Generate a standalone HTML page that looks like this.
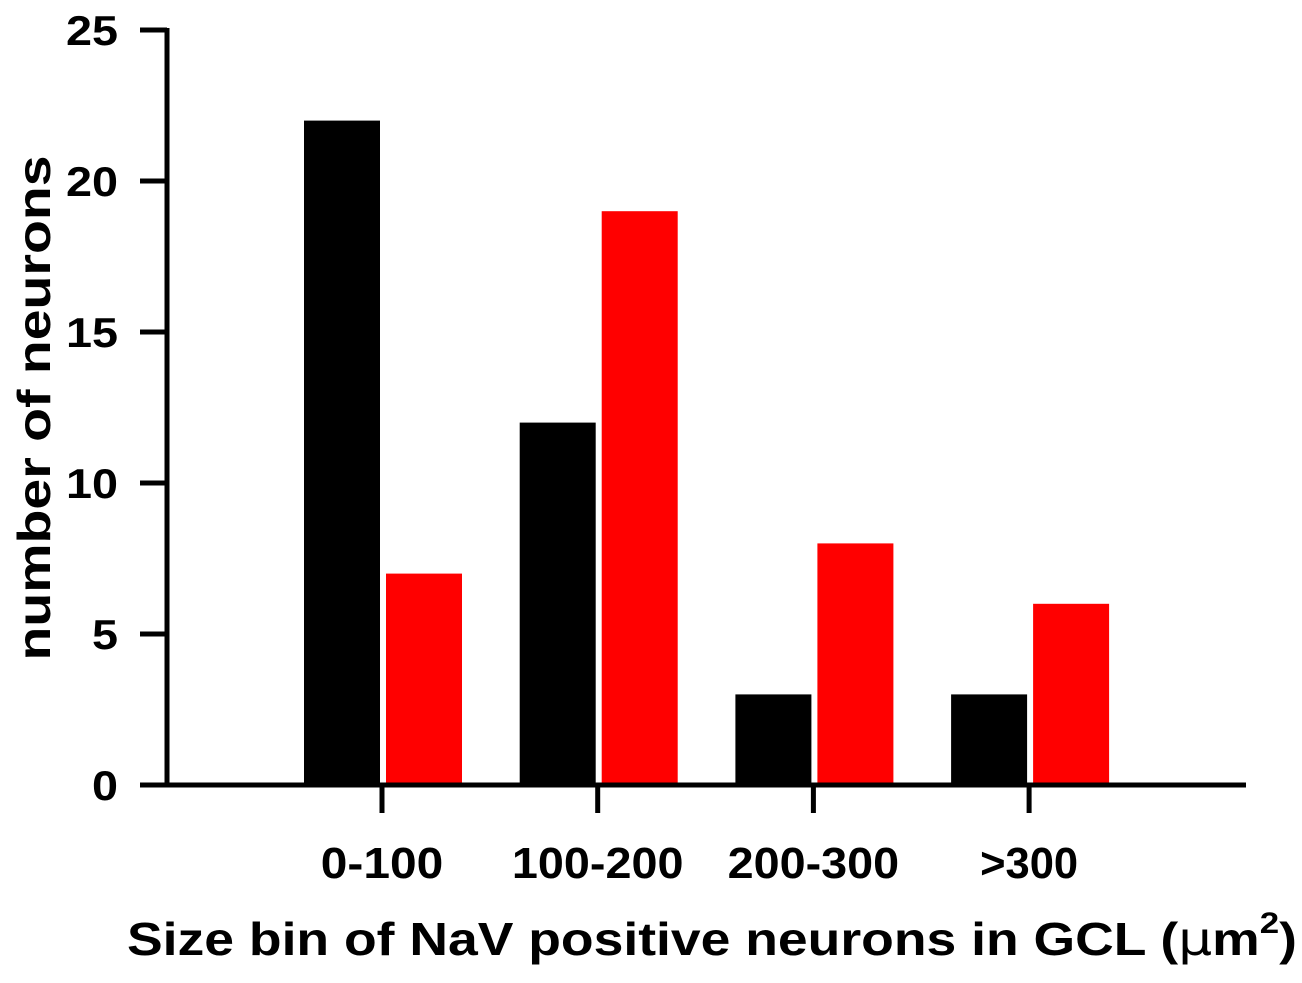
<!DOCTYPE html>
<html><head><meta charset="utf-8"><style>
body{margin:0;background:#fff;}
svg{display:block;font-family:"Liberation Sans",Arial,sans-serif;font-weight:bold;}
</style></head><body>
<svg id="chart" width="1302" height="983" viewBox="0 0 1302 983" xmlns="http://www.w3.org/2000/svg">
<g id="marks"></g>
<g id="axes"></g>
<text transform="translate(50,408) rotate(-90)" text-anchor="middle" font-size="46" textLength="505" lengthAdjust="spacingAndGlyphs">number of  neurons</text>
<text x="127" y="955" font-size="46" textLength="1170" lengthAdjust="spacingAndGlyphs">Size bin of NaV positive neurons in GCL (<tspan font-family="DejaVu Sans,sans-serif" font-weight="normal">μ</tspan>m<tspan font-size="30" dy="-22">2</tspan><tspan dy="22">)</tspan></text>
</svg>
<script>
const categories=["0-100","100-200","200-300",">300"];
const seriesBlack=[22,12,3,3];
const seriesRed=[7,19,8,6];
const yTicks=[0,5,10,15,20,25];
const NS="http://www.w3.org/2000/svg";
const y0=785,yTop=30,yMax=25;
function yScale(v){return y0-(v/yMax)*(y0-yTop);}
function xCenter(i){return 382+i*215.7;}
function mk(tag,attrs,parent){const e=document.createElementNS(NS,tag);for(const k in attrs)e.setAttribute(k,attrs[k]);parent.appendChild(e);return e;}
const marks=document.getElementById('marks'),axes=document.getElementById('axes');
categories.forEach((c,i)=>{
  const cx=xCenter(i);
  const b=mk('rect',{x:cx-78,y:yScale(seriesBlack[i]),width:76,height:y0-yScale(seriesBlack[i]),fill:'#000'},marks);
  
  
  const r=mk('rect',{x:cx+4,y:yScale(seriesRed[i]),width:76,height:y0-yScale(seriesRed[i]),fill:'#ff0000'},marks);
  
  
  const t=mk('line',{x1:cx,y1:y0,x2:cx,y2:813,stroke:'#000','stroke-width':5},axes);
  
  
  const l=mk('text',{x:cx,y:878,'text-anchor':'middle','font-size':44,textLength:c.length*24.5,lengthAdjust:'spacingAndGlyphs'},axes);
  l.textContent=c;
  
  
});
const ya=mk('line',{x1:167,y1:yTop-2,x2:167,y2:y0+2,stroke:'#000','stroke-width':5},axes);


const xa=mk('line',{x1:140,y1:y0,x2:1246,y2:y0,stroke:'#000','stroke-width':5},axes);


yTicks.forEach(v=>{
  const y=yScale(v);
  const t=mk('line',{x1:140,y1:y,x2:167,y2:y,stroke:'#000','stroke-width':5},axes);
  
  
  const s=String(v);
  const l=mk('text',{x:118,y:y+15,'text-anchor':'end','font-size':42,textLength:s.length*26,lengthAdjust:'spacingAndGlyphs'},axes);
  l.textContent=s;
  
  
});
</script>
</body></html>
